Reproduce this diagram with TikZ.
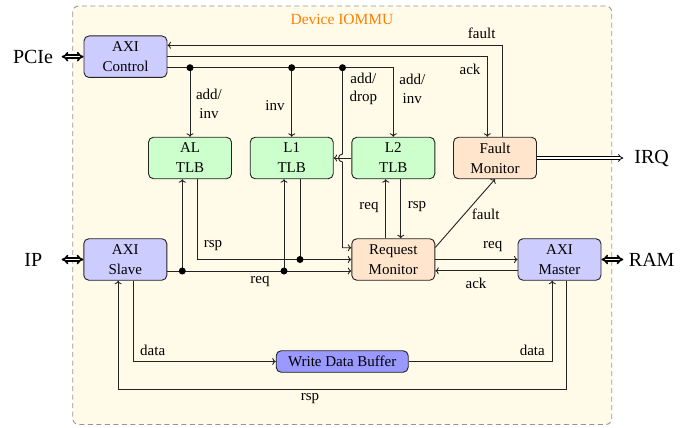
\documentclass[tikz,border=0pt]{standalone}
\usepackage{fontspec}
\setmainfont{Liberation Serif}
\usetikzlibrary{arrows.meta,calc}
\definecolor{bgc}{RGB}{255,251,232}
\definecolor{ln}{RGB}{35,35,35}
\definecolor{dashc}{RGB}{150,150,150}
\definecolor{ttl}{RGB}{255,128,0}
\begin{document}
\begin{tikzpicture}[x=1pt,y=-1pt,
  box/.style={draw=ln, line width=0.9pt, rounded corners=5pt, minimum width=83pt, minimum height=41.5pt, inner sep=0pt, align=center, font=\fontsize{15}{20}\selectfont},
  axi/.style={box, fill=blue!20},
  tlb/.style={box, fill=green!20},
  mon/.style={box, fill=orange!20},
  lbl/.style={font=\fontsize{15}{18.5}\selectfont, align=center, inner sep=0pt},
  ext/.style={font=\fontsize{20}{24}\selectfont, inner sep=0pt},
  conn/.style={draw=ln, line width=0.9pt, -{To[length=3.5pt,width=7pt]}},
  wire/.style={draw=ln, line width=0.9pt},
  bidir/.style={draw=black, double, line width=1.6pt, double distance=1.4pt, {Implies}-{Implies}},
  irqarrow/.style={draw=black, double, line width=0.8pt, double distance=1.8pt, -{Implies}},
  jdot/.style={circle, fill=black, inner sep=0pt, minimum size=7pt},
]
\useasboundingbox (0,0) rectangle (696,428);
\draw[dashc, dash pattern=on 5pt off 3.5pt, line width=0.9pt, fill=bgc, rounded corners=6pt] (72.7,6) rectangle (611.7,424.5);
\node[font=\fontsize{15.5}{18}\selectfont, text=ttl, inner sep=0pt] (title) at (342,19) {Device IOMMU};

% blocks
\node[axi] (ctrl) at (125.5,56.7) {AXI\\Control};
\node[tlb] (al) at (190,158) {AL\\TLB};
\node[tlb] (l1) at (291.7,158) {L1\\TLB};
\node[tlb] (l2) at (393.3,158) {L2\\TLB};
\node[mon] (fm) at (495,158) {Fault\\Monitor};
\node[axi] (slave) at (125.3,259.5) {AXI\\Slave};
\node[mon] (reqmon) at (393.3,259.5) {Request\\Monitor};
\node[axi] (master) at (559.5,259.5) {AXI\\Master};
\node[box, fill=blue!40, minimum width=132pt, minimum height=21.5pt] (wdb) at (342.2,361.5) {Write Data Buffer};

% external
\node[ext] (pcie) at (33,56.7) {PCIe};
\node[ext] (ip) at (33.3,259.5) {IP};
\node[ext] (ram) at (651.7,259.5) {RAM};
\node[ext] (irq) at (651.7,158) {IRQ};
\coordinate (pa) at (61.7,56.7);
\coordinate (ia) at (61.7,259.5);
\coordinate (ra) at (623.3,259.5);
\coordinate (qa) at (623.3,158);
\draw[bidir] (pa) -- (ctrl.west);
\draw[bidir] (ia) -- (slave.west);
\draw[bidir] (master.east) -- (ra);
\draw[irqarrow] (fm.east) -- (qa);

% control bus
\draw[conn] ([xshift=7.7pt]fm.north) |- ([yshift=11.4pt]ctrl.east);
\draw[conn] (ctrl.east) -| ([xshift=-7.7pt]fm.north);
\coordinate (cmd) at ([yshift=-11pt]ctrl.east);
\draw[conn] (cmd) -| (l2.north);
\coordinate (mid) at ($(l1.east)!0.5!(l2.west)$);
\coordinate (j1) at (al.north |- cmd);
\coordinate (j2) at (l1.north |- cmd);
\coordinate (j3) at (mid |- cmd);
\draw[conn] (j1) -- (al.north);
\draw[conn] (j2) -- (l1.north);
\coordinate (hop) at (mid |- l2.west);
\coordinate (rmin) at ([yshift=11.8pt]reqmon.west);
\draw[conn] (j3) -- ([yshift=4pt]hop) arc[start angle=90, end angle=270, radius=4pt] -- (j3 |- rmin) -- (rmin);
\draw[conn] (l2.west) -- (l1.east);

% TLB responses
\draw[conn] ([xshift=7.7pt]al.south) |- (reqmon.west);
\coordinate (j5) at ([xshift=8.3pt]l1.south |- reqmon.west);
\draw[wire] ([xshift=8.3pt]l1.south) -- (j5);

% requests from slave
\coordinate (sreq) at ([yshift=-11.5pt]slave.east);
\draw[conn] (sreq) -- (sreq -| reqmon.west);
\coordinate (j4a) at ([xshift=-7.7pt]al.south |- sreq);
\coordinate (j4b) at ([xshift=-7.7pt]l1.south |- sreq);
\draw[conn] (j4a) -- (j4a |- al.south);
\draw[conn] (j4b) -- (j4b |- l1.south);

% L2 and request monitor
\draw[conn] ([xshift=-7.6pt]reqmon.north) -- ([xshift=-7.6pt]l2.south);
\draw[conn] ([xshift=7.4pt]l2.south) -- ([xshift=7.4pt]reqmon.north);
\draw[conn] ([yshift=12pt]reqmon.east) -- (fm.south);
\draw[conn] (reqmon.east) -- (master.west);
\draw[conn] ([yshift=-11.3pt]master.west) -- ([yshift=-11.3pt]reqmon.east);

% data path
\draw[conn] ([xshift=8pt]slave.south) |- (wdb.west);
\draw[conn] (wdb.east) -| ([xshift=-7.3pt]master.south);
\draw[conn] ([xshift=7.2pt]master.south) -- ++(0,109) -| ([xshift=-7.2pt]slave.south);

% junction dots
\node[jdot] (d1) at (j1) {};
\node[jdot] (d2) at (j2) {};
\node[jdot] (d3) at (j3) {};
\node[jdot] (d4) at (j4a) {};
\node[jdot] (d5) at (j4b) {};
\node[jdot] (d6) at (j5) {};

% labels
\node[lbl] (lfault1) at (481.7,33) {fault};
\node[lbl] (lack1) at (470,69.3) {ack};
\node[lbl] (ladd1) at (209,104) {add/\\inv};
\node[lbl] (linv) at (275,106) {inv};
\node[lbl] (ladd2) at (363.3,89) {add/\\drop};
\node[lbl] (ladd3) at (412.3,89) {add/\\inv};
\node[lbl] (lrsp1) at (213,245.7) {rsp};
\node[lbl] (lreq1) at (260,281) {req};
\node[lbl] (lreq2) at (369,207) {req};
\node[lbl] (lrsp2) at (417,207) {rsp};
\node[lbl] (lfault2) at (485.7,214) {fault};
\node[lbl] (lreq3) at (492.7,246) {req};
\node[lbl] (lack2) at (476,283) {ack};
\node[lbl] (ldata1) at (152.7,350) {data};
\node[lbl] (ldata2) at (532.3,350) {data};
\node[lbl] (lrsp3) at (310,399) {rsp};
\end{tikzpicture}
\end{document}
